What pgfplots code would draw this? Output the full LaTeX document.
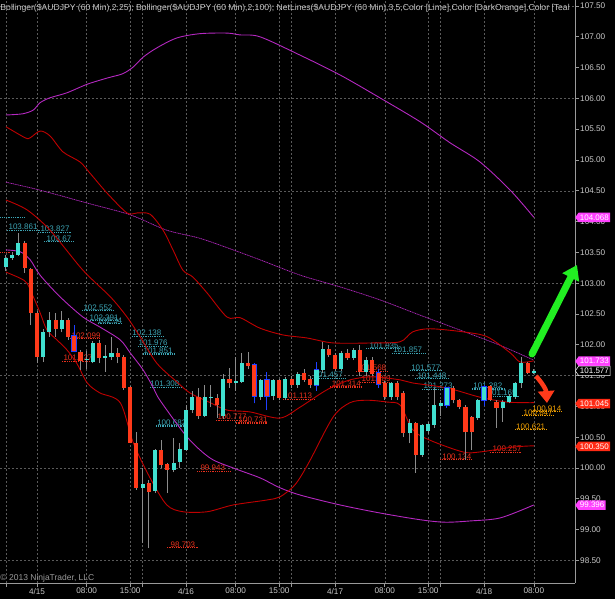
\documentclass[border=0pt]{standalone}
\usepackage{fontspec}
\setmainfont{Liberation Sans}
\usepackage{pgfplots}
\pgfplotsset{compat=1.18}
\usepackage{pgfplotstable}
\usetikzlibrary{arrows.meta,shapes.symbols}

\definecolor{candleup}{HTML}{40E0D0}
\definecolor{candledn}{HTML}{FF3A1A}
\definecolor{wick}{HTML}{8C8C8C}
\definecolor{bbred}{HTML}{C00000}
\definecolor{bbmag}{HTML}{B428C0}
\definecolor{labteal}{HTML}{3CA4B4}
\definecolor{labred}{HTML}{E8301C}
\definecolor{laborange}{HTML}{F0A000}
\definecolor{gridc}{HTML}{5A5A5A}
\definecolor{axisc}{HTML}{9A9A9A}
\definecolor{tickc}{HTML}{C8C8C8}
\definecolor{boxmag}{HTML}{FF40FF}
\definecolor{boxred}{HTML}{FF2A14}
\definecolor{arrowgreen}{HTML}{22EE22}
\definecolor{outlineblue}{HTML}{2040FF}

\newcommand{\labfont}{\fontsize{8}{9.5}\selectfont}
\newcommand{\tickfont}{\fontsize{8.2}{9.5}\selectfont}
\newcommand{\boxfont}{\fontsize{8}{9.5}\selectfont}

% hourly candles, h = hours from 4/15 00:00
\pgfplotstableread{
h O H L C
-5 103.26 103.45 103.20 103.41
-4 103.41 103.50 103.38 103.46
-3 103.46 103.82 103.44 103.65
1 101.80 102.25 101.72 102.21
2 102.21 102.53 102.13 102.40
4 102.26 102.55 102.20 102.40
8 101.75 101.90 101.60 101.77
9 101.72 102.06 101.70 102.03
11 101.79 101.99 101.56 101.82
12 101.80 102.13 101.75 101.87
17 99.68 100.00 98.78 99.74
19 99.63 100.31 99.60 100.29
22 99.97 100.49 99.93 100.08
23 100.10 100.41 100.00 100.31
24 100.29 101.02 100.27 100.94
25 100.94 101.25 100.90 101.15
27 100.84 101.35 100.82 101.15
28 101.14 101.35 100.99 101.16
30 100.84 101.52 100.80 101.45
32 101.38 101.80 101.25 101.42
33 101.40 101.86 101.38 101.70
36 101.15 101.45 101.10 101.43
38 101.17 101.45 101.10 101.43
40 101.14 101.47 101.10 101.45
42 101.35 101.56 101.30 101.53
45 101.35 101.72 101.25 101.59
46 101.59 102.05 101.55 101.93
49 101.61 101.90 101.58 101.87
51 101.79 101.95 101.75 101.91
53 101.56 101.80 101.50 101.75
57 101.15 101.40 101.10 101.38
60 100.57 100.80 100.40 100.73
62 100.21 100.72 100.18 100.70
63 100.60 100.75 100.55 100.72
64 100.70 101.30 100.65 101.02
65 101.00 101.10 100.85 101.05
66 101.02 101.32 100.98 101.30
71 100.81 101.12 100.78 101.10
72 101.10 101.35 101.00 101.32
75 100.97 101.10 100.75 101.07
76 101.07 101.20 101.05 101.17
77 101.15 101.40 101.12 101.38
78 101.38 101.80 101.30 101.70
80 101.54 101.60 101.52 101.58
}\upbars

\pgfplotstableread{
h O H L C
-2 103.65 103.68 103.17 103.25
-1 103.23 103.25 102.32 102.52
0 102.52 102.55 101.70 101.80
3 102.40 102.52 102.13 102.26
5 102.40 102.43 102.08 102.13
6 102.14 102.32 101.88 101.90
7 101.88 101.92 101.59 101.74
10 102.03 102.08 101.70 101.79
13 101.87 101.95 101.70 101.80
14 101.80 101.84 101.27 101.30
15 101.32 101.33 100.40 100.41
16 100.41 100.58 99.65 99.68
18 99.76 99.80 98.70 99.61
20 100.29 100.45 100.00 100.05
21 100.06 100.08 99.59 99.97
26 101.15 101.30 100.80 100.84
29 101.14 101.20 100.81 101.02
31 101.45 101.62 101.30 101.38
34 101.70 101.88 101.60 101.66
35 101.67 101.70 101.05 101.17
37 101.43 101.56 100.94 101.17
39 101.43 101.45 101.10 101.14
41 101.45 101.50 101.30 101.35
43 101.54 101.60 101.40 101.43
44 101.45 101.50 101.30 101.35
47 101.93 102.00 101.80 101.83
48 101.83 101.86 101.58 101.61
50 101.87 101.93 101.76 101.79
52 101.91 102.00 101.50 101.56
54 101.75 101.80 101.50 101.52
55 101.54 101.60 101.30 101.36
56 101.38 101.42 101.10 101.15
58 101.38 101.42 101.10 101.15
59 101.22 101.25 100.50 100.57
61 100.73 100.75 99.92 100.21
67 101.30 101.33 101.05 101.10
68 101.10 101.12 100.95 100.99
69 100.99 101.02 100.13 100.58
70 100.83 100.85 100.29 100.58
73 101.33 101.35 101.08 101.10
74 101.07 101.10 100.65 100.97
79 101.70 101.72 101.52 101.54
}\dnbars

% candles drawn with a blue outline
\pgfplotstableread{
h lo hi L H
6 101.885 102.155 101.88 102.32
35 101.155 101.685 101.05 101.70
37 101.155 101.445 100.94 101.56
45 101.335 101.605 101.25 101.72
55 101.345 101.555 101.30 101.60
66 101.005 101.315 100.98 101.32
72 101.085 101.335 101.00 101.35
}\bluebars

\tikzset{
  labt/.style={text=labteal, font=\labfont, anchor=south, inner sep=0.4pt},
  labr/.style={text=labred, font=\labfont, anchor=south, inner sep=0.4pt},
  labo/.style={text=laborange, font=\labfont, anchor=south, inner sep=0.4pt},
  pbox/.style={signal, signal to=west, signal pointer angle=110, anchor=west,
     font=\boxfont, inner xsep=1.3pt, inner ysep=0.6pt, minimum height=9.5pt, text=white},
}

\begin{document}
\begin{tikzpicture}
\useasboundingbox (0pt,-16pt) rectangle (615pt,583pt);
\fill[black] (0pt,-16pt) rectangle (615pt,583pt);
\begin{axis}[
  at={(0pt,0pt)}, anchor=south west,
  width=575pt, height=583pt, scale only axis,
  xmin=-5.958, xmax=86.635, ymin=98.133, ymax=107.597,
  axis x line*=bottom, axis y line*=right,
  axis line style={draw=axisc, line width=0.8pt},
  clip=false,
  xtick={0,8,15,24,32,39,48,56,63,72,80},
  xticklabels={4/15,08:00,15:00,4/16,08:00,15:00,4/17,08:00,15:00,4/18,08:00},
  extra x ticks={-5,17,41,65}, extra x tick labels={},
  extra x tick style={grid=major},
  xmajorgrids=true, ymajorgrids=false,
  ytick={98.5,99,99.5,100,100.5,101,101.5,102,102.5,103,103.5,104,104.5,105,105.5,106,106.5,107,107.5},
  extra y ticks={98.5,100,101.5,103,104.5,106,107.5}, extra y tick labels={},
  extra y tick style={grid=major, major tick length=0pt},
  scaled y ticks=false,
  yticklabel style={font=\tickfont, text=tickc, inner sep=1.5pt,
     /pgf/number format/.cd, fixed, fixed zerofill, precision=2, assume math mode=true},
  xticklabel style={font=\tickfont, text=tickc, inner sep=1.2pt, yshift=-0.3pt},
  tick align=outside, major tick length=3.5pt,
  tick style={draw=axisc, line width=0.6pt},
  major grid style={draw=gridc, line width=0.5pt, dash pattern=on 2pt off 2pt},
]

% ---- NetLines levels (dotted) ----
\addplot[labteal, line width=1.1pt, dash pattern=on 0.9pt off 0.9pt, unbounded coords=jump, forget plot] coordinates {
(-5.9,104.06) (-1.9,104.06) (nan,nan)
(-4.83,103.861) (0.48,103.861) (nan,nan)
(0.16,103.827) (5.64,103.827) (nan,nan)
(1.13,103.67) (5.8,103.67) (nan,nan)
(7.25,102.552) (12.24,102.552) (nan,nan)
(8.2,102.391) (13.0,102.391) (nan,nan)
(9.8,102.34) (13.7,102.34) (nan,nan)
(15.3,102.138) (20.3,102.138) (nan,nan)
(16.3,101.976) (21.1,101.976) (nan,nan)
(17.1,101.851) (22.1,101.851) (nan,nan)
(18.2,101.308) (23.3,101.308) (nan,nan)
(19.2,100.682) (24.3,100.682) (nan,nan)
(44.3,101.457) (49.6,101.457) (nan,nan)
(53.0,101.935) (58.5,101.935) (nan,nan)
(57.2,101.857) (62.5,101.857) (nan,nan)
(60.1,101.577) (65.2,101.577) (nan,nan)
(60.9,101.448) (66.2,101.448) (nan,nan)
(62.0,101.273) (67.3,101.273) (nan,nan)
(70.0,101.282) (75.4,101.282) (nan,nan)
(72.6,101.165) (77.8,101.165)
};
\addplot[labred, line width=1.1pt, dash pattern=on 0.9pt off 0.9pt, unbounded coords=jump, forget plot] coordinates {
(-5.9,103.50) (-4.3,103.50) (nan,nan)
(5.0,102.099) (10.1,102.099) (nan,nan)
(4.0,101.727) (9.2,101.727) (nan,nan)
(28.8,100.777) (34.0,100.777) (nan,nan)
(32.0,100.731) (37.2,100.731) (nan,nan)
(25.8,99.943) (31.1,99.943) (nan,nan)
(20.9,98.703) (25.9,98.703) (nan,nan)
(39.6,101.113) (44.6,101.113) (nan,nan)
(47.2,101.314) (52.3,101.314) (nan,nan)
(51.4,101.568) (56.5,101.568) (nan,nan)
(52.0,101.389) (57.2,101.389) (nan,nan)
(64.9,100.134) (70.0,100.134) (nan,nan)
(72.9,100.257) (78.1,100.257)
};
\addplot[laborange, line width=1.1pt, dash pattern=on 0.9pt off 0.9pt, unbounded coords=jump, forget plot] coordinates {
(79.7,100.914) (84.5,100.914) (nan,nan)
(78.1,100.847) (83.3,100.847) (nan,nan)
(77.0,100.621) (82.1,100.621)
};

\node[labt] at (axis cs:-2.25,103.861) {103.861};
\node[labt] at (axis cs:2.9,103.827) {103.827};
\node[labt] at (axis cs:3.54,103.67) {103.67};
\node[labt] at (axis cs:9.82,102.552) {102.552};
\node[labt] at (axis cs:10.8,102.391) {102.391};
\node[labt] at (axis cs:11.75,102.34) {102.34};
\node[labt] at (axis cs:17.7,102.138) {102.138};
\node[labt] at (axis cs:18.7,101.976) {101.976};
\node[labt] at (axis cs:19.5,101.851) {101.851};
\node[labt] at (axis cs:20.6,101.308) {101.308};
\node[labt] at (axis cs:21.7,100.682) {100.682};
\node[labt] at (axis cs:46.9,101.457) {101.457};
\node[labt] at (axis cs:55.9,101.935) {101.935};
\node[labt] at (axis cs:59.7,101.857) {101.857};
\node[labt] at (axis cs:62.6,101.577) {101.577};
\node[labt] at (axis cs:63.6,101.448) {101.448};
\node[labt] at (axis cs:64.6,101.273) {101.273};
\node[labt] at (axis cs:72.6,101.282) {101.282};
\node[labt] at (axis cs:74.9,101.165) {101.165};

\node[labr] at (axis cs:7.9,102.099) {102.099};
\node[labr] at (axis cs:6.6,101.727) {101.727};
\node[labr] at (axis cs:31.4,100.777) {100.777};
\node[labr] at (axis cs:34.8,100.731) {100.731};
\node[labr] at (axis cs:28.3,99.943) {99.943};
\node[labr] at (axis cs:23.5,98.703) {98.703};
\node[labr] at (axis cs:42.0,101.113) {101.113};
\node[labr] at (axis cs:49.8,101.314) {101.314};
\node[labr] at (axis cs:53.9,101.568) {101.568};
\node[labr] at (axis cs:54.6,101.389) {101.389};
\node[labr] at (axis cs:67.6,100.134) {100.134};
\node[labr] at (axis cs:75.7,100.257) {100.257};

\node[labo] at (axis cs:82.1,100.914) {100.914};
\node[labo] at (axis cs:80.7,100.847) {100.847};
\node[labo] at (axis cs:79.5,100.621) {100.621};

% ---- Bollinger (2,100), magenta ----
\addplot[bbmag, line width=0.9pt, smooth, tension=0.5, forget plot] coordinates {
(-5,105.73) (-2.3,105.75) (-0.6,105.81) (0.5,105.93) (2.1,106.01) (4.8,106.09) (8.1,106.23)
(11.3,106.33) (13.8,106.40) (15.5,106.51) (17.1,106.67) (19.3,106.82) (22.5,106.98) (26.2,107.05)
(30.6,107.06) (32.7,107.03) (35.9,107.00) (42.4,106.70) (48.8,106.38) (55.2,106.01) (61.7,105.62)
(66.5,105.28) (71.3,104.97) (76.2,104.51) (80,104.07)
};
\addplot[bbmag, line width=0.7pt, dash pattern=on 1.2pt off 0.6pt, smooth, tension=0.5, forget plot] coordinates {
(-5,104.64) (0.5,104.51) (8.1,104.30) (15,104.11) (20.9,103.86) (26.2,103.73) (31.6,103.54)
(35.9,103.38) (42.4,103.13) (48.8,102.94) (55.2,102.73) (61.7,102.48) (68.1,102.24) (74.6,101.99) (80,101.75)
};
\addplot[bbmag, line width=0.9pt, smooth, tension=0.5, forget plot] coordinates {
(-5,103.54) (-2.7,103.51) (-1.1,103.38) (0.5,103.13) (3.7,102.78) (7.4,102.45) (10.1,102.29)
(13.4,102.08) (15,101.87) (17.1,101.59) (18.7,101.31) (19.8,101.10) (24.2,100.50) (27.9,100.16)
(31.6,100.00) (35.9,99.84) (39.1,99.68) (42.4,99.56) (48.8,99.40) (55.2,99.27) (61.7,99.16)
(65.7,99.12) (69.7,99.14) (74.6,99.19) (80,99.40)
};

% ---- Bollinger (2,25), red ----
\addplot[bbred, line width=0.9pt, smooth, tension=0.5, forget plot] coordinates {
(-5,105.54) (-1.9,105.36) (-1.1,105.36) (0.5,105.47) (2.1,105.39) (4.2,105.13) (6.9,104.97)
(8.5,104.79) (11.3,104.46) (14.5,104.14) (16.1,104.14) (18.2,104.12) (20.3,103.86) (21.9,103.54)
(23.5,103.21) (25.1,103.10) (27.4,102.84) (30.6,102.45) (32.7,102.44) (35.9,102.27) (39.6,102.16)
(43.5,102.11) (47.7,102.03) (54.1,102.03) (58.5,102.05) (60.5,102.21) (63.3,102.26) (68.6,102.21)
(72.5,102.13) (76.2,101.87) (77.8,101.72) (80,101.74)
};
\addplot[bbred, line width=0.9pt, smooth, tension=0.5, forget plot] coordinates {
(-5,104.35) (-1.6,104.19) (2.1,103.86) (7.4,103.21) (11.8,102.78) (14.5,102.45) (16.6,102.13)
(19.3,101.70) (22.5,101.40) (24.6,101.22) (27.9,101.06) (30.6,100.94) (34.3,100.91) (39.1,100.81)
(42.4,100.99) (46.7,101.27) (50.4,101.43) (54.1,101.48) (58.5,101.43) (60.5,101.38) (66,101.30)
(71.3,101.15) (75.7,101.07) (80,101.06)
};
\addplot[bbred, line width=0.9pt, smooth, tension=0.5, forget plot] coordinates {
(-5,103.18) (-2.7,103.08) (-1.6,103.00) (-0.6,102.78) (0.5,102.52) (1.6,102.24) (3.2,102.08)
(4.8,101.92) (6.4,101.70) (8.1,101.38) (10.1,101.22) (13.4,101.06) (15.5,100.41) (18.2,99.84)
(20.9,99.40) (23.5,99.29) (27.4,99.29) (31.6,99.40) (37,99.48) (39.1,99.53) (41.2,99.69)
(42.4,99.85) (44,100.13) (47.7,100.83) (50.4,101.06) (53.1,101.10) (56.4,101.07) (58.5,101.02)
(60.5,100.62) (63.3,100.45) (68.6,100.26) (71.3,100.26) (76.7,100.34) (80,100.36)
};

% ---- candles: wicks ----
\addplot[draw=none, mark=none, forget plot, error bars/.cd, y dir=plus, y explicit, error mark=none,
  error bar style={draw=wick, line width=0.9pt}]
  table[x=h, y=L, y error plus expr=\thisrow{H}-\thisrow{L}] {\upbars};
\addplot[draw=none, mark=none, forget plot, error bars/.cd, y dir=plus, y explicit, error mark=none,
  error bar style={draw=wick, line width=0.9pt}]
  table[x=h, y=L, y error plus expr=\thisrow{H}-\thisrow{L}] {\dnbars};
\addplot[draw=none, mark=none, forget plot, error bars/.cd, y dir=plus, y explicit, error mark=none,
  error bar style={draw=outlineblue, line width=0.9pt}]
  table[x=h, y=L, y error plus expr=\thisrow{H}-\thisrow{L}] {\bluebars};
\addplot[draw=none, mark=none, forget plot, error bars/.cd, y dir=plus, y explicit, error mark=none,
  error bar style={draw=outlineblue, line width=5.6pt}]
  table[x=h, y=lo, y error plus expr=\thisrow{hi}-\thisrow{lo}] {\bluebars};
% ---- candles: bodies ----
\addplot[draw=none, mark=none, forget plot, error bars/.cd, y dir=plus, y explicit, error mark=none,
  error bar style={draw=candleup, line width=4.1pt}]
  table[x=h, y=O, y error plus expr=\thisrow{C}-\thisrow{O}] {\upbars};
\addplot[draw=none, mark=none, forget plot, error bars/.cd, y dir=plus, y explicit, error mark=none,
  error bar style={draw=candledn, line width=4.1pt}]
  table[x=h, y=C, y error plus expr=\thisrow{O}-\thisrow{C}] {\dnbars};

% ---- price markers on the axis ----
\node[pbox, fill=boxmag] at (axis cs:86.635,104.068) {104.068};
\node[pbox, fill=boxmag] at (axis cs:86.635,101.733) {101.733};
\node[pbox, fill=black, draw=white, line width=0.5pt] at (axis cs:86.635,101.577) {101.577};
\node[pbox, fill=boxred] at (axis cs:86.635,101.045) {101.045};
\node[pbox, fill=boxred] at (axis cs:86.635,100.350) {100.350};
\node[pbox, fill=boxmag] at (axis cs:86.635,99.396) {99.396};
\end{axis}

% annotations
\draw[arrowgreen, line width=7pt, line cap=round, -{Triangle[length=14pt,width=18pt]}]
  (532pt,229pt) -- (577pt,318pt);
\draw[candledn, line width=4.5pt, -{Triangle[length=12pt,width=16pt]}]
  (536pt,207pt) .. controls (542pt,200pt) and (546pt,194pt) .. (547pt,180pt);

\node[anchor=west, text=tickc, font=\fontsize{8.6}{10}\selectfont, inner sep=0pt] at (0.3pt,575pt)
  {Bollinger(\$AUDJPY (60 Min),2,25); Bollinger(\$AUDJPY (60 Min),2,100); NetLines(\$AUDJPY (60 Min),3,5,Color [Lime],Color [DarkOrange],Color [Teal};
\node[anchor=west, text=axisc, font=\fontsize{8.5}{10}\selectfont, inner sep=0pt] at (0.3pt,5pt)
  {© 2013 NinjaTrader, LLC};
\end{tikzpicture}
\end{document}
